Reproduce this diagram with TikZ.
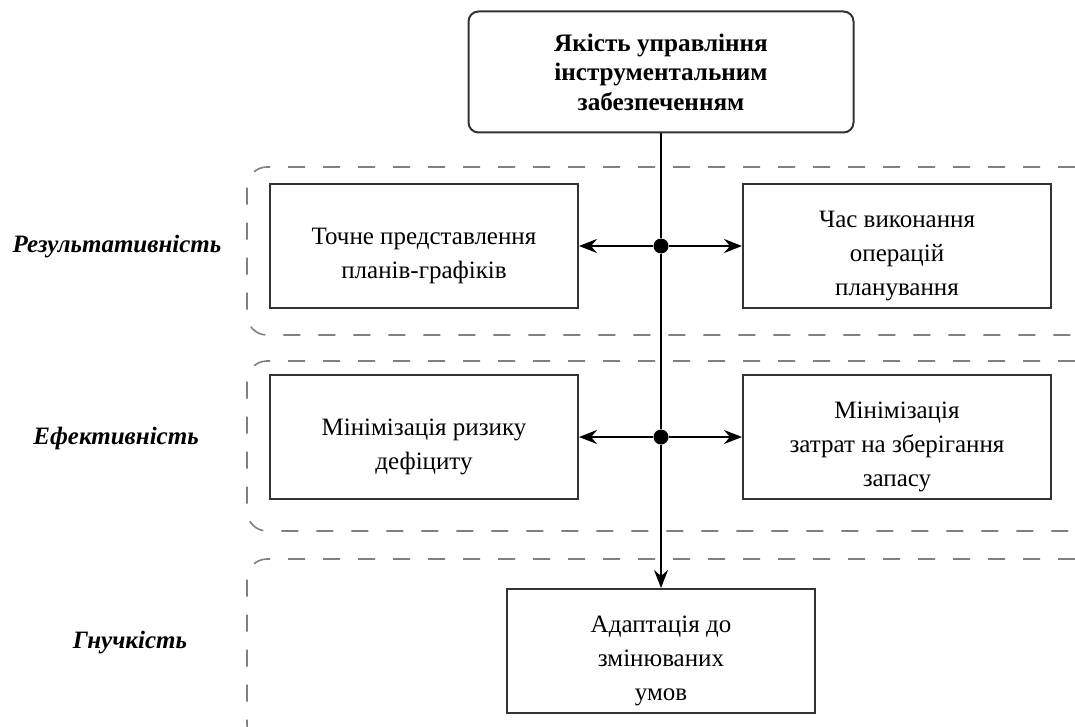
\documentclass[tikz,border=0pt]{standalone}
\usepackage{fontspec}
\setmainfont{Liberation Serif}
\usetikzlibrary{arrows.meta}

\begin{document}
\begin{tikzpicture}[x=0.5pt,y=-0.5pt,
    box/.style={draw=black!80,line width=1pt,minimum width=154pt,minimum height=62pt,inner sep=0pt,
      label={[yshift=-5pt,align=center,font=\fontsize{12.5}{17}\selectfont]center:{#1}}},
    topbox/.style={draw=black!80,line width=1pt,rounded corners=5pt,minimum width=192.5pt,
      minimum height=60.5pt,align=center,inner sep=0pt,font=\bfseries\fontsize{12.6}{14.8}\selectfont},
    group/.style={draw=black!50,line width=0.8pt,dash pattern=on 8.5pt off 9pt,rounded corners=10pt},
    grouplabel/.style={font=\bfseries\itshape\fontsize{12.5}{16}\selectfont},
    line/.style={draw=black,line width=1pt},
    link/.style={line,-{Stealth[length=9pt,width=7pt,inset=3pt]}},
    joint/.style={circle,fill=black,inner sep=0pt,minimum size=7.5pt}]
\useasboundingbox (0,0) rectangle (1075,727);

% dashed groups, open to the right
\draw[group] (1075,167) -| (247,335) -- (1075,335);
\draw[group] (1075,361) -| (247,531) -- (1075,531);
\draw[group] (1075,559) -| (247,745) -- (1075,745);

\node[grouplabel] (result) at (117,247) {Результативність};
\node[grouplabel] (effect) at (116,438) {Ефективність};
\node[grouplabel] (flex) at (130,643) {Гнучкість};

% boxes
\node[topbox] (quality) at (661,72) {Якість управління\\інструментальним\\забезпеченням};
\node[box={Точне представлення\\планів-графіків}] (plans) at (424,246) {};
\node[box={Час виконання\\операцій\\планування}] (timeops) at (897,246) {};
\node[box={Мінімізація ризику\\дефіциту}] (risk) at (424,437) {};
\node[box={Мінімізація\\затрат на зберігання\\запасу}] (costs) at (897,437) {};
\node[box={Адаптація до\\змінюваних\\умов}] (adapt) at (661,651) {};

\node[joint] (j1) at (661,246) {};
\node[joint] (j2) at (661,437) {};

% connectors
\draw[line] (quality.south) -- (j1);
\draw[line] (j1) -- (j2);
\draw[link] (j2) -- (adapt.north);
\draw[link] (j1) -- (plans.east);
\draw[link] (j1) -- (timeops.west);
\draw[link] (j2) -- (risk.east);
\draw[link] (j2) -- (costs.west);
\end{tikzpicture}
\end{document}
